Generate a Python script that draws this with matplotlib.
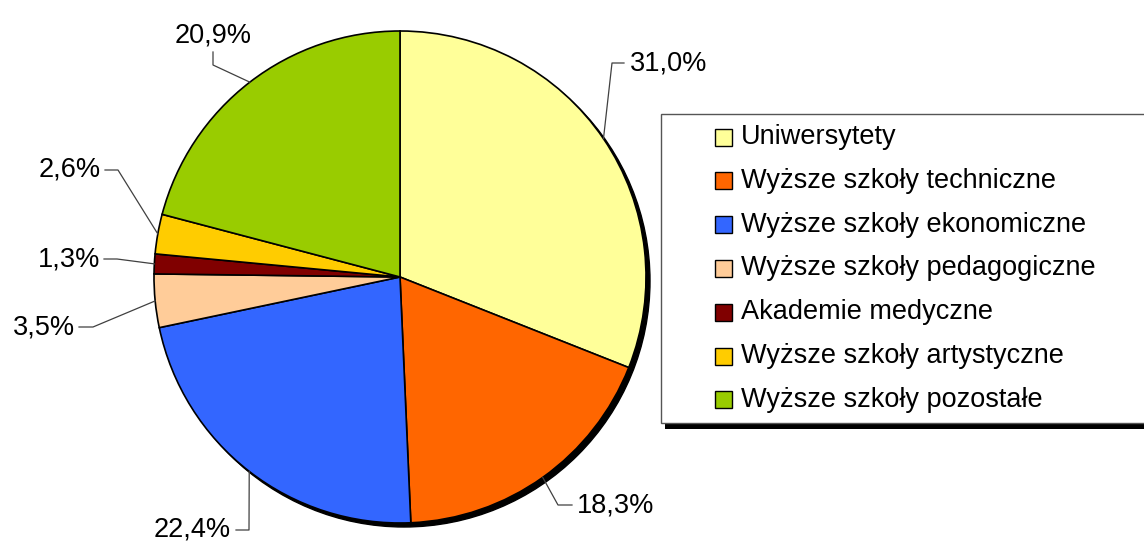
import numpy as np
import matplotlib.pyplot as plt
from matplotlib.patches import Rectangle, Circle

categories = ['Uniwersytety', 'Wyższe szkoły techniczne', 'Wyższe szkoły ekonomiczne',
              'Wyższe szkoły pedagogiczne', 'Akademie medyczne', 'Wyższe szkoły artystyczne',
              'Wyższe szkoły pozostałe']
shares = [31.0, 18.3, 22.4, 3.5, 1.3, 2.6, 20.9]
colors = ['#FFFF99', '#FF6600', '#3366FF', '#FFCC99', '#800000', '#FFCC00', '#99CC00']

W, H = 1144, 542
plt.rcParams['font.family'] = ['Liberation Sans', 'DejaVu Sans']
FS = 19.5

fig = plt.figure(figsize=(W / 100, H / 100), dpi=100)
ax = fig.add_axes([0, 0, 1, 1])

# pixel coords (y down) -> axes coords (y up)
def py(y):
    return H - y

cx, cy, r = 400, py(277), 246

# shadow under the pie
ax.add_patch(Circle((cx + 4, cy - 4), r, color='black', zorder=1))

wedges, _ = ax.pie(shares, colors=colors, startangle=90, counterclock=False,
                   center=(cx, cy), radius=r, frame=True,
                   wedgeprops=dict(edgecolor='black', linewidth=1.2))
for w in wedges:
    w.set_zorder(2)
ax.set_xlim(0, W)
ax.set_ylim(0, H)
ax.set_aspect('equal')
ax.axis('off')

# label layout: elbow point, line end, text x, alignment (pixel coords)
layout = [
    ((612, 63), (624, 63), 630, 'left'),
    ((558, 505), (572, 505), 577, 'left'),
    ((249, 530), (236, 530), 231, 'right'),
    ((93, 327), (79, 327), 75, 'right'),
    ((117, 259), (104, 259), 100, 'right'),
    ((118, 170), (105, 170), 101, 'right'),
    ((213, 65), (213, 52), 213, 'center'),
]

for w, v, (elb, end, tx, ha) in zip(wedges, shares, layout):
    ang = np.deg2rad((w.theta1 + w.theta2) / 2)
    ex, ey = cx + r * np.cos(ang), cy + r * np.sin(ang)
    ax.plot([ex, elb[0], end[0]], [ey, py(elb[1]), py(end[1])],
            color='#404040', lw=0.9, zorder=3)
    txt = f'{v:.1f}'.replace('.', ',') + '%'
    if ha == 'center':
        ax.text(tx, py(end[1] - 3), txt, ha='center', va='bottom', fontsize=FS)
    else:
        ax.text(tx, py(end[1]), txt, ha=ha, va='center', fontsize=FS)

# legend box with shadow
lx, ly_top, ly_bot = 661, 114, 423
ax.add_patch(Rectangle((lx + 4, py(ly_bot + 6)), W, ly_bot - ly_top,
                       facecolor='black', edgecolor='none', zorder=4))
ax.add_patch(Rectangle((lx, py(ly_bot)), W, ly_bot - ly_top,
                       facecolor='white', edgecolor='#555555', lw=1.0, zorder=5))
row0, step = 137, 43.8
for i, (name, c) in enumerate(zip(categories, colors)):
    yc = row0 + i * step
    ax.add_patch(Rectangle((715, py(yc + 8.5)), 17, 17, facecolor=c,
                           edgecolor='black', lw=1.0, zorder=6))
    ax.text(741, py(yc), name, ha='left', va='center', fontsize=FS, zorder=6)

fig.savefig('out.png', dpi=100)
